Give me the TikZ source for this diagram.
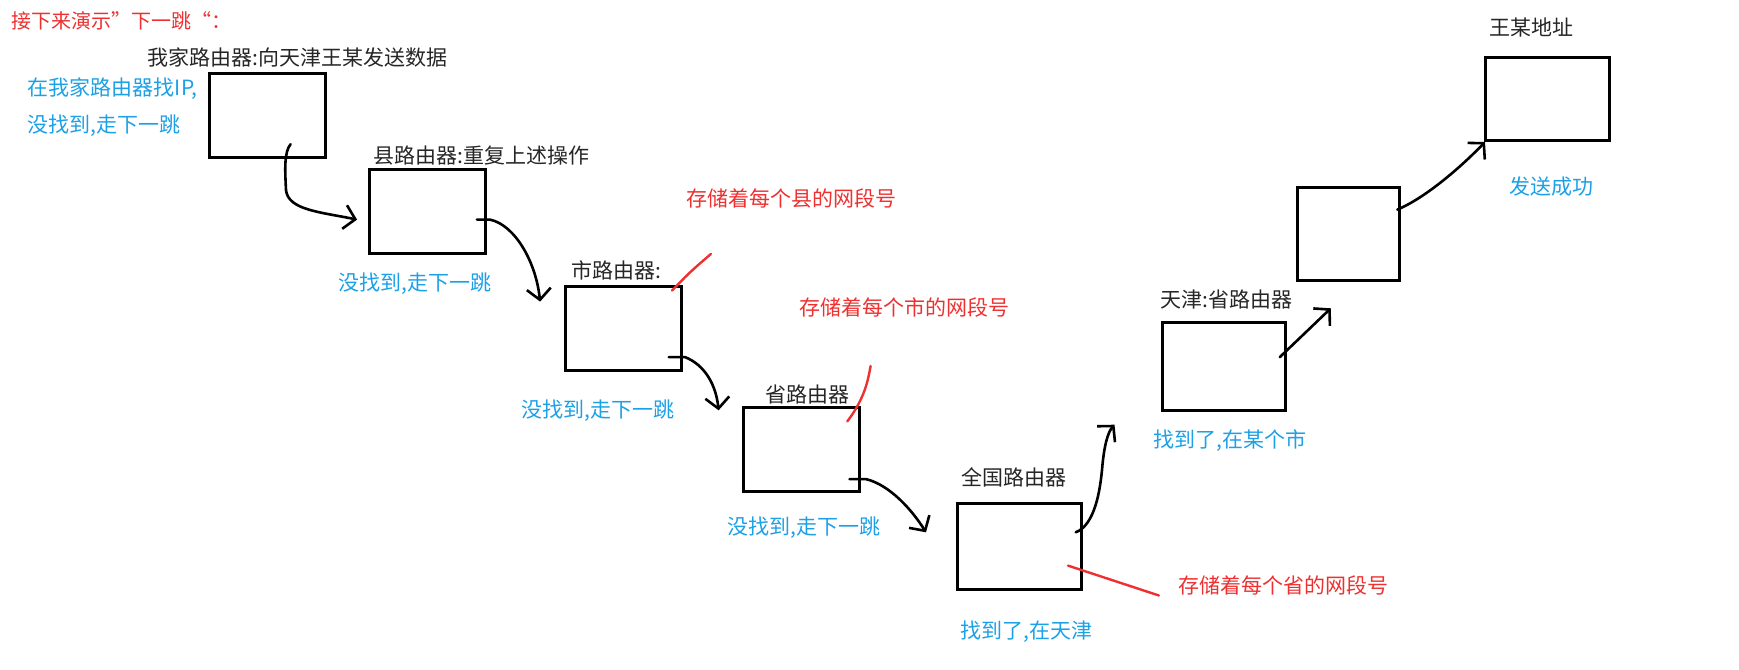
\documentclass[tikz,border=0pt]{standalone}
\usepackage{fontspec}
\setmainfont{Noto Sans CJK SC}
\usepackage{xcolor}
\usetikzlibrary{arrows.meta}

\definecolor{notered}{RGB}{238,48,48}
\definecolor{noteblue}{RGB}{28,160,230}

\begin{document}
\begin{tikzpicture}[
  x=1pt, y=-1pt,
  font=\fontsize{21}{25}\selectfont,
  router/.style={draw, line width=3pt, minimum width=116pt, minimum height=84pt, inner sep=0pt},
  rname/.style={anchor=west, inner sep=0pt, text=black!85},
  found/.style={anchor=west, inner sep=0pt, text=noteblue},
  remark/.style={anchor=west, inner sep=0pt, text=notered},
  hop/.style={line width=2.6pt, line cap=round, line join=round,
              -{Straight Barb[length=11pt,width=24pt,line width=2.6pt]}},
  redtick/.style={notered, line width=2.4pt, line cap=round}
]
\useasboundingbox (0,0) rectangle (1739,669);

\node[remark, font=\fontsize{20}{24}\selectfont] (intro) at (11,21) {接下来演示”下一跳“：};

\node[router] (home)     at (267.8,115.3) {};
\node[router] (county)   at (427.0,211.8) {};
\node[router] (city)     at (623.3,328.8) {};
\node[router] (province) at (801.8,449.7) {};
\node[router, minimum width=124pt, minimum height=86pt] (national) at (1019.2,546.8) {};
\node[router, minimum width=123pt, minimum height=88pt] (tjprov)   at (1223.8,366.5) {};
\node[router, minimum width=102pt, minimum height=93pt] (tjcity)   at (1348.5,234.0) {};
\node[router, minimum width=124pt, minimum height=83pt] (wang)     at (1547.0,99.2) {};

\node[rname] (lhome)     at (147.5,57.7)  {我家路由器:向天津王某发送数据};
\node[rname] (lcounty)   at (373.7,155.3) {县路由器:重复上述操作};
\node[rname] (lcity)     at (571.1,270.6) {市路由器:};
\node[rname] (lprovince) at (765.2,394.8) {省路由器};
\node[rname] (lnational) at (961.5,476.9) {全国路由器};
\node[rname] (ltjprov)   at (1160.0,299.4) {天津:省路由器};
\node[rname] (lwang)     at (1489.4,27.7) {王某地址};

\node[found] (fhomea)    at (27.7,88.7)   {在我家路由器找IP,};
\node[found] (fhomeb)    at (27.7,125.3)  {没找到,走下一跳};
\node[found] (fcounty)   at (338.2,283.9) {没找到,走下一跳};
\node[found] (fcity)     at (521.2,410.3) {没找到,走下一跳};
\node[found] (fprovince) at (727.5,527.9) {没找到,走下一跳};
\node[found] (fnational) at (960.4,632.1) {找到了,在天津};
\node[found] (ftjprov)   at (1153.4,440.3) {找到了,在某个市};
\node[found] (fwang)     at (1509.4,186.3) {发送成功};

\node[remark] (rcounty)   at (686.5,198.5)  {存储着每个县的网段号};
\node[remark] (rcity)     at (799.6,307.2)  {存储着每个市的网段号};
\node[remark] (rprovince) at (1177.8,585.6) {存储着每个省的网段号};

\coordinate (s1) at (290.6,144.2);   \coordinate (t1) at (357.1,219.6);
\coordinate (s2) at (476.9,219.6);   \coordinate (t2) at (540.1,301.6);
\coordinate (s3) at (668.7,357.1);   \coordinate (t3) at (718.6,410.3);
\coordinate (s4) at (849.5,479.1);   \coordinate (t4) at (926.0,532.3);
\coordinate (s5) at (1075.7,532.3);  \coordinate (t5) at (1114.5,424.7);
\coordinate (s6) at (1279.8,357.1);  \coordinate (t6) at (1330.8,308.3);
\coordinate (s7) at (1397.3,209.6);  \coordinate (t7) at (1485.0,142.0);

\draw[hop] (s1) .. controls (284,152) and (285,170) .. (286,190)
                .. controls (288,210) and (320,212) .. (t1);
\draw[hop] (s2) -- (490,219.6) .. controls (515,225) and (536,262) .. (t2);
\draw[hop] (s3) -- (685,357.1) .. controls (705,365) and (716,385) .. (t3);
\draw[hop] (s4) -- (866,479.1) .. controls (890,485) and (912,510) .. (t4);
\draw[hop] (s5) .. controls (1095,525) and (1100,490) .. (1102,470)
                .. controls (1104,445) and (1108,432) .. (t5);
\draw[hop] (s6) -- (t6);
\draw[hop] (s7) .. controls (1425,198) and (1460,168) .. (t7);

\coordinate (c1) at (672.0,290.6);   \coordinate (d1) at (710.9,254.0);
\coordinate (c2) at (847.3,421.4);   \coordinate (d2) at (870.6,366.0);
\coordinate (c3) at (1068.0,565.6);  \coordinate (d3) at (1158.9,595.5);

\draw[redtick] (c1) .. controls (690,272) .. (d1);
\draw[redtick] (c2) .. controls (865,398) and (868,380) .. (d2);
\draw[redtick] (c3) -- (d3);
\end{tikzpicture}
\end{document}
